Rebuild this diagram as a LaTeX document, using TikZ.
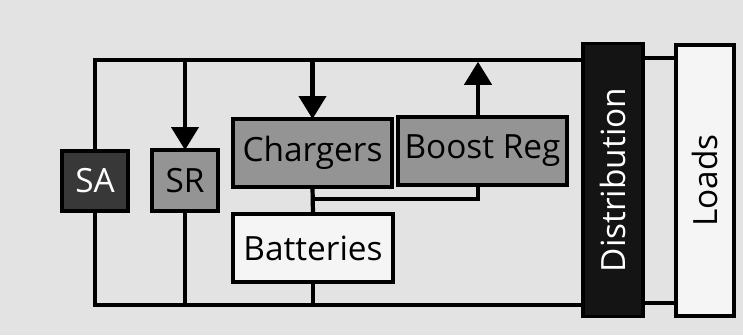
\documentclass[tikz,border=0pt]{standalone}
\usepackage{fontspec}
\setmainfont{Open Sans}
\usepackage{tikz}
\usetikzlibrary{positioning,arrows.meta}

\begin{document}
\begin{tikzpicture}[
		x=0.02cm,y=-0.02cm,
		block/.style={draw=black,line width=1.8pt,inner sep=0pt,outer sep=0pt,
			font=\fontsize{19}{21}\selectfont},
		dark block/.style={block,fill=black!78,text=white},
		grey block/.style={block,fill=black!42},
		plain block/.style={block,fill=black!4},
		bus/.style={line width=2.4pt},
		feed/.style={bus,-{Triangle[length=4.6mm,width=5.4mm]}}
	]
		% Paper background fixes the frame of the figure.
		\fill[black!11] (0,0) rectangle (743,335);

		% Sources and regulators.
		\node[dark block,minimum width=1.32cm,minimum height=1.2cm] (SA) at (95,181) {SA};
		\node[grey block,minimum width=1.32cm,minimum height=1.22cm] (SR) at (185,180.5) {SR};
		\node[grey block,minimum width=3.18cm,minimum height=1.36cm] (chargers) at (312.5,153) {Chargers};
		\node[grey block,minimum width=3.38cm,minimum height=1.36cm] (boost) at (482.5,151) {Boost Reg};
		\node[plain block,minimum width=3.2cm,minimum height=1.36cm] (batteries) at (313,248) {Batteries};

		% Rotated blocks: local north is the left side.
		\node[dark block,fill=black!92,rotate=90,minimum width=5.46cm,minimum height=1.2cm] (dist) at (613,180) {Distribution};
		\node[plain block,line width=2.6pt,rotate=90,minimum width=5.42cm,minimum height=1.16cm] (loads) at (705,180.5) {Loads};

		% Main bus, top and bottom.
		\coordinate (top bus) at (0,60);
		\coordinate (bottom bus) at (0,305);
		\draw[bus] (SA.north) |- (dist.north |- top bus);
		\draw[bus] (SA.south) |- (dist.north |- bottom bus);
		\draw[bus] (dist.south |- 0,58) -- (loads.north |- 0,58);
		\draw[bus] (dist.south |- 0,303) -- (loads.north |- 0,303);

		% Power taken from the bus.
		\foreach \blk in {SR,chargers}
			\draw[feed] (\blk.north |- top bus) -- (\blk.north);
		\foreach \blk in {SR,batteries}
			\draw[bus] (\blk.south) -- (\blk.south |- bottom bus);

		% Battery path through the boost regulator.
		\coordinate (boost in) at ([xshift=-0.09cm]boost.south);
		\coordinate (boost out) at ([xshift=-0.09cm]boost.north);
		\draw[bus] (chargers.south) -- (batteries.north);
		\path (chargers.south) -- (batteries.north) coordinate[pos=0.45] (tap);
		\draw[bus] (tap) -| (boost in);
		\draw[feed,shorten >=1pt] (boost out) -- (boost out |- top bus);
	\end{tikzpicture}
\end{document}
